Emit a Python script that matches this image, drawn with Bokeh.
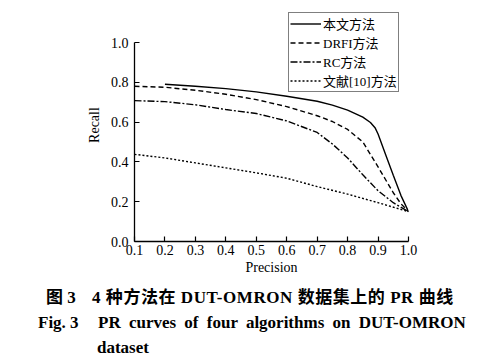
from bokeh.plotting import figure
from bokeh.layouts import column
from bokeh.models import Legend, LegendItem, FixedTicker, PrintfTickFormatter, Div
from bokeh.embed import file_html
from bokeh.resources import INLINE

# Data
p_ours = [0.2, 0.3, 0.4, 0.5, 0.6, 0.7, 0.75, 0.8, 0.85, 0.875, 0.89, 0.9, 0.925, 0.95, 0.975, 1.0]
r_ours = [0.79, 0.78, 0.768, 0.752, 0.73, 0.705, 0.685, 0.66, 0.625, 0.598, 0.572, 0.54, 0.436, 0.333, 0.232, 0.15]

p_drfi = [0.1, 0.2, 0.3, 0.4, 0.5, 0.6, 0.7, 0.75, 0.8, 0.85, 0.9, 0.95, 0.975, 1.0]
r_drfi = [0.78, 0.775, 0.76, 0.74, 0.713, 0.678, 0.632, 0.603, 0.563, 0.5, 0.375, 0.245, 0.19, 0.15]

p_rc = [0.1, 0.2, 0.3, 0.4, 0.5, 0.6, 0.7, 0.75, 0.8, 0.85, 0.9, 0.95, 1.0]
r_rc = [0.708, 0.703, 0.687, 0.663, 0.643, 0.606, 0.548, 0.49, 0.42, 0.335, 0.255, 0.195, 0.15]

p_ref = [0.1, 0.2, 0.3, 0.4, 0.5, 0.6, 0.7, 0.8, 0.9, 1.0]
r_ref = [0.438, 0.42, 0.395, 0.37, 0.345, 0.318, 0.276, 0.238, 0.195, 0.15]

series_names = ["本文方法", "DRFI方法", "RC方法", "文献[10]方法"]
x_ticks = [0.1, 0.2, 0.3, 0.4, 0.5, 0.6, 0.7, 0.8, 0.9, 1.0]
y_ticks = [0.0, 0.2, 0.4, 0.6, 0.8, 1.0]

caption_cn_fig = "图 3"
caption_cn_text = "4 种方法在 DUT-OMRON 数据集上的 PR 曲线"
caption_en_fig = "Fig. 3"
caption_en_text = "PR curves of four algorithms on DUT-OMRON"
caption_en_tail = "dataset"

SERIF = "'Liberation Serif', 'Noto Sans CJK SC', serif"

W, H1, H2 = 470, 284, 76
FRAME_TOP, FRAME_BOTTOM, FRAME_LEFT, FRAME_RIGHT = 8, 241, 134, 408
y_top = (FRAME_BOTTOM - FRAME_TOP) / 199.0  # extend range so the legend fits above 1.0

p = figure(width=W, height=H1, output_backend="svg", toolbar_location=None,
           x_range=(0.1, 1.0), y_range=(0.0, y_top),
           min_border_left=FRAME_LEFT, min_border_right=W - FRAME_RIGHT,
           min_border_top=FRAME_TOP, min_border_bottom=H1 - FRAME_BOTTOM)
p.outline_line_color = None
p.xgrid.visible = False
p.ygrid.visible = False
p.background_fill_color = "white"
p.border_fill_color = "white"

styles = [("solid", series_names[0], p_ours, r_ours),
          ("5 3", series_names[1], p_drfi, r_drfi),
          ("7 2 2 2", series_names[2], p_rc, r_rc),
          ("2 2", series_names[3], p_ref, r_ref)]
items = []
for dash, name, xs, ys in styles:
    r = p.line(xs, ys, line_color="black", line_width=1.4, line_dash=dash)
    items.append(LegendItem(label=name, renderers=[r]))

for ax in (p.xaxis[0], p.yaxis[0]):
    ax.major_tick_in = 5
    ax.major_tick_out = 0
    ax.minor_tick_line_color = None
    ax.axis_line_width = 1.3
    ax.major_tick_line_width = 1.2
    ax.major_label_text_font = SERIF
    ax.major_label_text_font_size = "14px"
    ax.major_label_text_color = "black"
    ax.axis_label_text_font = SERIF
    ax.axis_label_text_font_size = "14px"
    ax.axis_label_text_font_style = "normal"
    ax.axis_label_text_color = "black"
    ax.formatter = PrintfTickFormatter(format="%.1f")

p.yaxis.bounds = (0.0, 1.0)
p.xaxis.ticker = FixedTicker(ticks=x_ticks)
p.yaxis.ticker = FixedTicker(ticks=y_ticks)
p.xaxis.axis_label = "Precision"
p.yaxis.axis_label = "Recall"
p.xaxis.major_label_standoff = 3
p.yaxis.major_label_standoff = 6
p.xaxis.axis_label_standoff = 2
p.yaxis.axis_label_standoff = 6

legend = Legend(items=items, location=(154, 149), orientation="vertical",
                label_text_font=SERIF, label_text_font_size="13px",
                label_text_color="black", glyph_width=31, glyph_height=15,
                label_height=15, label_standoff=2, spacing=0, padding=1,
                margin=0, border_line_color="black", border_line_width=1.2,
                background_fill_alpha=1.0)
p.add_layout(legend)

# caption below the chart: (text, left px, centre y px, extra css)
captions = [(caption_cn_fig, 46, 298, ""),
            (caption_cn_text, 92, 298, "letter-spacing:0.55px;"),
            (caption_en_fig, 38, 323, ""),
            (caption_en_text, 98, 323, "word-spacing:4px;"),
            (caption_en_tail, 97, 348, "")]
spans = "".join(
    f'<span style="position:absolute;left:{x}px;top:{y - H1 - 10}px;white-space:pre;{css}">{t}</span>'
    for t, x, y, css in captions)
html = (f'<div style="position:relative;width:{W}px;height:{H2}px;'
        f'font-family:{SERIF};font-weight:bold;font-size:17px;line-height:20px;color:black;">'
        f'{spans}</div>')
cap = Div(text=html, width=W, height=H2, margin=(0, 0, 0, 0))

layout = column(p, cap, spacing=0)
open("out.html", "w").write(file_html(layout, INLINE))
